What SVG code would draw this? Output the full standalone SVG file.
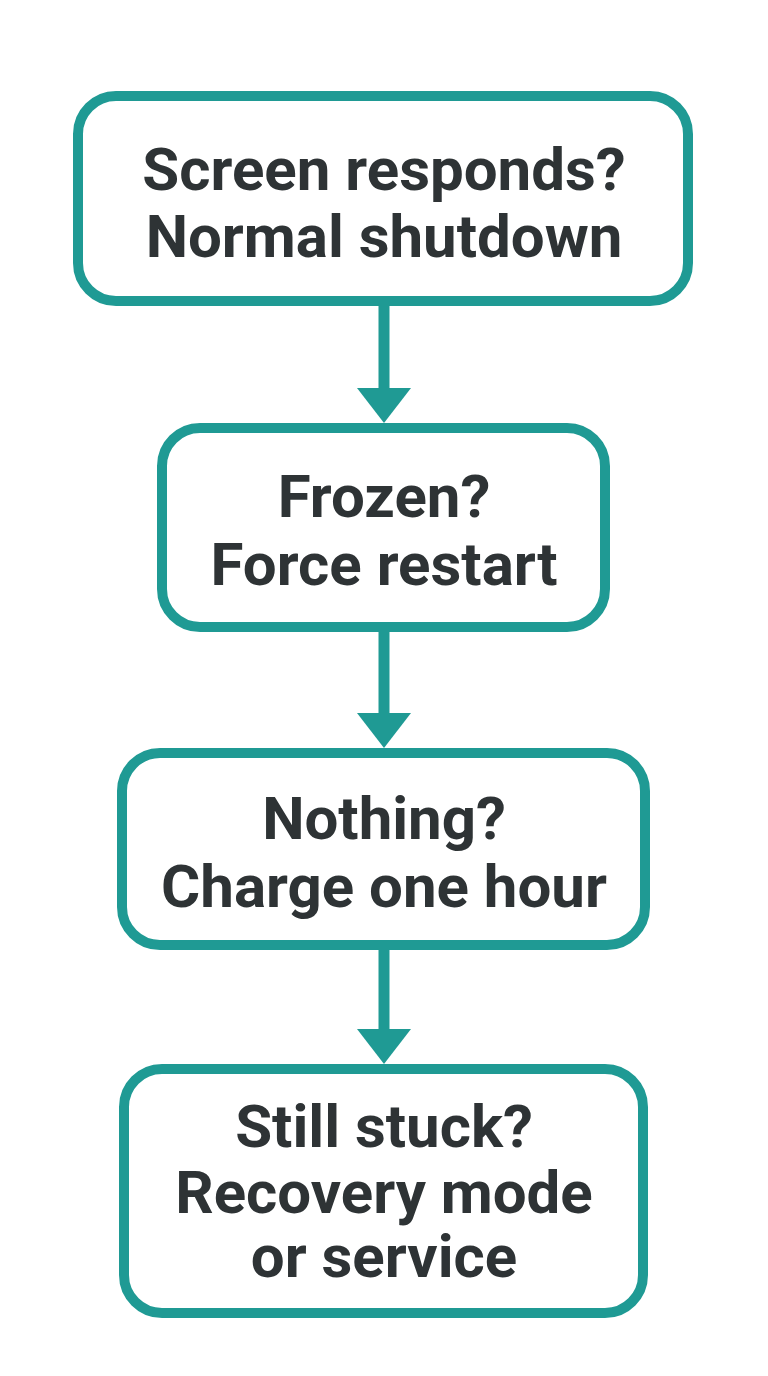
<svg xmlns="http://www.w3.org/2000/svg" width="768" height="1376" viewBox="0 0 768 1376">
<style>
.box{fill:#ffffff;stroke:#1f9a94;stroke-width:10}
.t{font-family:Roboto,"Liberation Sans",sans-serif;font-weight:700;font-size:60px;fill:#2e3335;text-anchor:middle}
.ln{stroke:#1f9a94;stroke-width:11;fill:none}
.ah{fill:#1f9a94}
</style>
<rect width="768" height="1376" fill="#ffffff"/>
<g id="connectors">
<line class="ln" x1="384" y1="306" x2="384" y2="392"/>
<polygon class="ah" points="357,388 411,388 384,423"/>
<line class="ln" x1="384" y1="632" x2="384" y2="717"/>
<polygon class="ah" points="357,713 411,713 384,748"/>
<line class="ln" x1="384" y1="950" x2="384" y2="1033"/>
<polygon class="ah" points="357,1029 411,1029 384,1064"/>
</g>
<g id="n1">
<rect class="box" x="78" y="96" width="610" height="205" rx="38"/>
<text class="t" x="384" y="190">Screen responds?</text>
<text class="t" x="384" y="257">Normal shutdown</text>
</g>
<g id="n2">
<rect class="box" x="162" y="428" width="443" height="199" rx="38"/>
<text class="t" x="384" y="517">Frozen?</text>
<text class="t" x="384" y="585">Force restart</text>
</g>
<g id="n3">
<rect class="box" x="122" y="753" width="523" height="192" rx="38"/>
<text class="t" x="384" y="839">Nothing?</text>
<text class="t" x="384" y="907">Charge one hour</text>
</g>
<g id="n4">
<rect class="box" x="124" y="1069" width="519" height="244" rx="38"/>
<text class="t" x="384" y="1147">Still stuck?</text>
<text class="t" x="384" y="1213">Recovery mode</text>
<text class="t" x="384" y="1277">or service</text>
</g>
</svg>
